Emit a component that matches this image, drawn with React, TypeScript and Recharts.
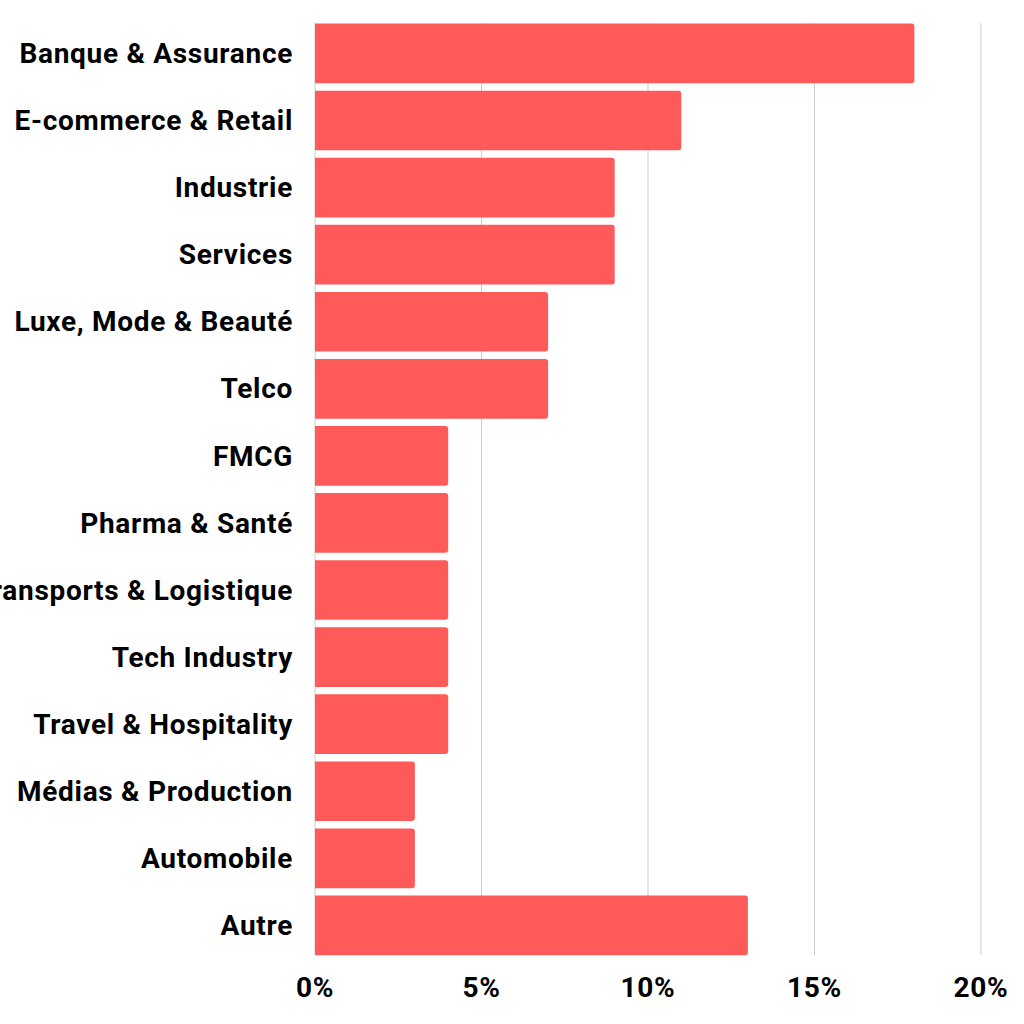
import React from "react";
import { BarChart, Bar, XAxis, YAxis, CartesianGrid } from "recharts";

const SECTORS = [
  "Banque & Assurance",
  "E-commerce & Retail",
  "Industrie",
  "Services",
  "Luxe, Mode & Beauté",
  "Telco",
  "FMCG",
  "Pharma & Santé",
  "Transports & Logistique",
  "Tech Industry",
  "Travel & Hospitality",
  "Médias & Production",
  "Automobile",
  "Autre",
];

const SHARES = [18, 11, 9, 9, 7, 7, 4, 4, 4, 4, 4, 3, 3, 13];

const X_TICKS = [0, 5, 10, 15, 20];

const BAR_COLOR = "#ff5a5a";
const FONT = "Roboto, sans-serif";
const TICK_STYLE = {
  fill: "#000",
  fontSize: 28,
  fontWeight: 700,
  fontFamily: FONT,
  letterSpacing: 0.7,
};

export default function App() {
  const data = SECTORS.map((name, i) => ({ name, value: SHARES[i] }));

  return (
    <div style={{ position: "absolute", left: 0, top: 0, background: "#fff" }}>
      <BarChart
        width={1024}
        height={1024}
        data={data}
        layout="vertical"
        margin={{ top: 19.6, right: 43, bottom: 0, left: 0 }}
        barSize={59.7}
      >
        <CartesianGrid
          horizontal={false}
          stroke="#cccccc"
          strokeWidth={1}
          y={23}
          height={932}
        />
        <XAxis
          type="number"
          domain={[0, 20]}
          ticks={X_TICKS}
          tickFormatter={(v) => `${v}%`}
          axisLine={false}
          tickLine={false}
          tickSize={0}
          tickMargin={19}
          height={65.4}
          interval={0}
          tick={TICK_STYLE}
        />
        <YAxis
          type="category"
          dataKey="name"
          width={315}
          axisLine={false}
          tickLine={false}
          tickSize={0}
          tickMargin={22}
          interval={0}
          tick={TICK_STYLE}
        />
        <Bar
          dataKey="value"
          fill={BAR_COLOR}
          radius={[0, 3, 3, 0]}
          isAnimationActive={false}
        />
      </BarChart>
    </div>
  );
}
